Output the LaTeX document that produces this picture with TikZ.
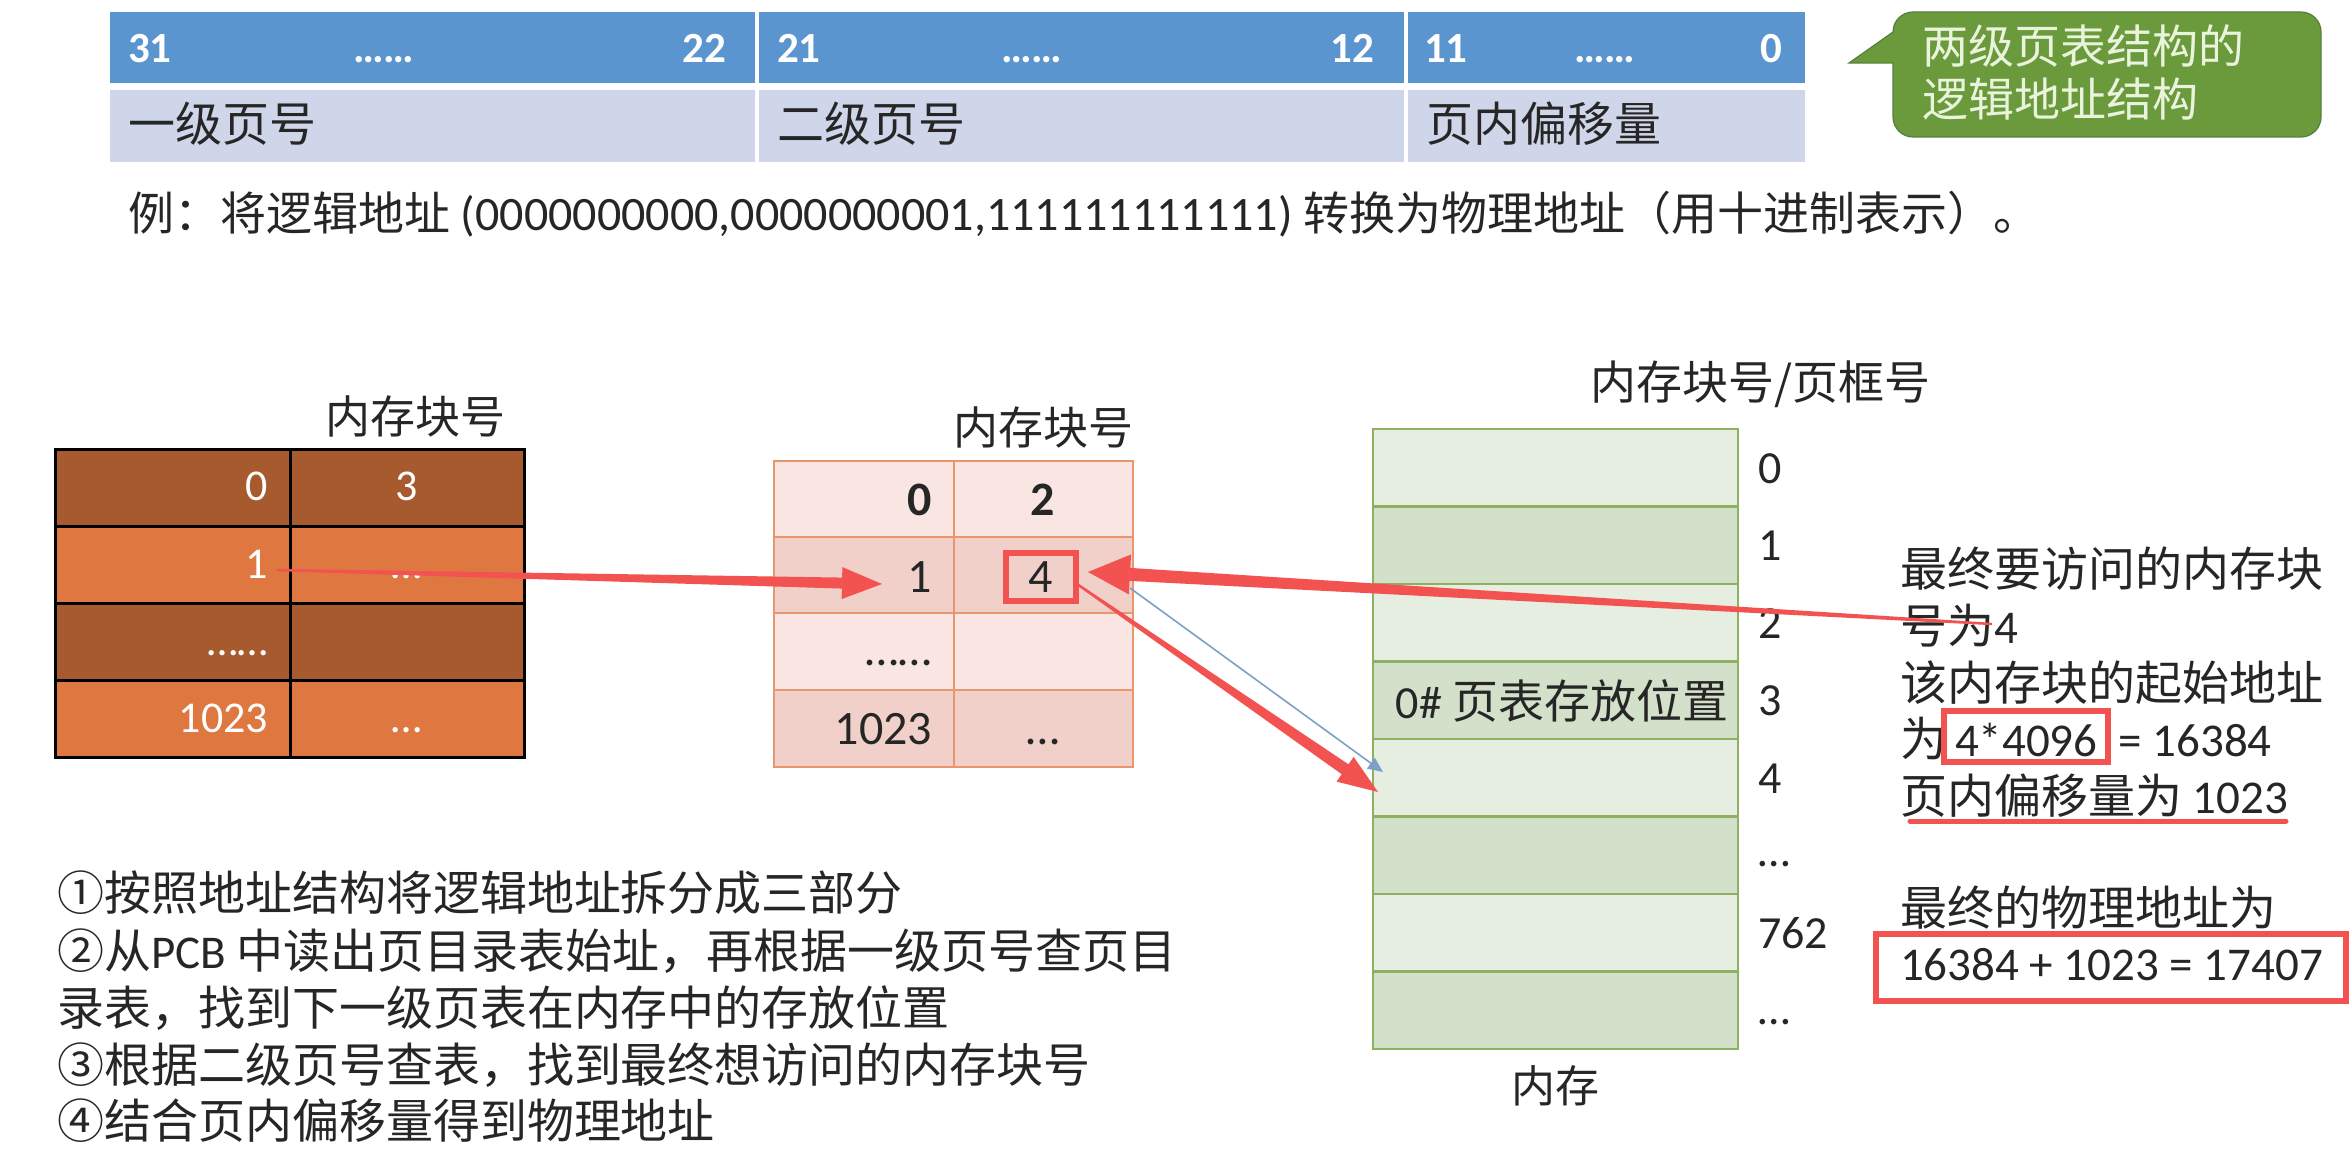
\documentclass[tikz,border=0pt]{standalone}
\usepackage{fontspec}
\setmainfont{Noto Sans CJK SC}
\newfontfamily\lat{Carlito}
\usetikzlibrary{calc,arrows.meta}
\definecolor{hdrblue}{HTML}{5B95CF}
\definecolor{rowlav}{HTML}{CFD6E9}
\definecolor{callgreen}{HTML}{6A9A3C}
\definecolor{callline}{HTML}{56803A}
\definecolor{calltext}{HTML}{EAF3DC}
\definecolor{brdark}{HTML}{A85A2F}
\definecolor{brlight}{HTML}{DF7740}
\definecolor{pinkL}{HTML}{F9E6E2}
\definecolor{pinkD}{HTML}{F2D0CA}
\definecolor{pinkB}{HTML}{E8966E}
\definecolor{memL}{HTML}{E6EEE2}
\definecolor{memD}{HTML}{D3E0CA}
\definecolor{memB}{HTML}{8DB160}
\definecolor{redc}{HTML}{F25250}
\definecolor{bluec}{HTML}{7DA0C8}
\definecolor{txt}{HTML}{262626}
\newcommand\taper[6]{%
  \coordinate (tpH) at ($(#2)!#5!(#1)$);
  \fill[redc] ($(#1)!#3!90:(#2)$) -- ($(tpH)!#4!-90:(#1)$) -- ($(tpH)!#6!-90:(#1)$) -- (#2) -- ($(tpH)!#6!90:(#1)$) -- ($(tpH)!#4!90:(#1)$) -- ($(#1)!#3!-90:(#2)$) -- cycle;}
\begin{document}
\begin{tikzpicture}[x=1pt,y=-1pt,
  every node/.style={inner sep=0pt,outer sep=0pt},
  cj/.style={font=\fontsize{47}{56}\selectfont,text=txt},
  cjh/.style={font=\fontsize{45}{54}\selectfont,text=txt},
  hd/.style={font=\lat\bfseries\fontsize{43}{50}\selectfont,text=white},
  wn/.style={font=\lat\fontsize{44}{52}\selectfont,text=white},
  bn/.style={font=\lat\fontsize{48}{56}\selectfont,text=txt},
  mn/.style={font=\lat\fontsize{46}{54}\selectfont,text=txt},
  ln/.style={font=\lat\fontsize{47}{56}\selectfont,text=txt},
  redbox/.style={draw=redc,line width=5.5pt},
  brgrid/.style={draw=black,line width=3pt},
  pkgrid/.style={draw=pinkB,line width=2.5pt},
  memgrid/.style={draw=memB,line width=2.5pt}]
\useasboundingbox (0,0) rectangle (2351,1155);
\fill[white] (0,0) rectangle (2351,1155);

% ---------- top address structure ----------
\fill[hdrblue] (110,12) rectangle (1805,83);
\fill[rowlav] (110,90) rectangle (1805,162);
\draw[white,line width=4pt] (757,10) -- (757,164) (1406,10) -- (1406,164);
\node[hd,anchor=base west] (h31) at (128,63) {31};
\node[hd,anchor=base] (hd1) at (384,63) {……};
\node[hd,anchor=base east] (h22) at (726,63) {22};
\node[hd,anchor=base west] (h21) at (777,63) {21};
\node[hd,anchor=base] (hd2) at (1032,63) {……};
\node[hd,anchor=base east] (h12) at (1374,63) {12};
\node[hd,anchor=base west] (h11) at (1424,63) {11};
\node[hd,anchor=base] (hd3) at (1605,63) {……};
\node[hd,anchor=base east] (h0) at (1782,63) {0};
\node[cj,anchor=base west] (f1) at (128,142) {一级页号};
\node[cj,anchor=base west] (f2) at (777,142) {二级页号};
\node[cj,anchor=base west] (f3) at (1426,142) {页内偏移量};

% callout
\filldraw[fill=callgreen,draw=callline,line width=1.2pt]
  (1893,63) -- (1849,63) -- (1893,32) [rounded corners=20pt] -- (1893,12) -- (2321,12) -- (2321,137) -- (1893,137) [sharp corners] -- (1893,63) -- cycle;
\node[font=\fontsize{46}{53}\selectfont,text=calltext,anchor=base west] (c1) at (1922,64) {两级页表结构的};
\node[font=\fontsize{46}{53}\selectfont,text=calltext,anchor=base west] (c2) at (1922,117) {逻辑地址结构};

% example line
\node[font=\fontsize{46}{54}\selectfont,text=txt,anchor=base west] (ex) at (128,231)
  {例：将逻辑地址{\lat\fontsize{48}{54}\selectfont\ (0000000000,0000000001,111111111111)\ }转换为物理地址（用十进制表示）。};

% ---------- left table (page directory) ----------
\node[cjh,anchor=base] (lhdr) at (415,434) {内存块号};
\fill[brdark] (55,449) rectangle (524,526);
\fill[brlight] (55,526) rectangle (524,603);
\fill[brdark] (55,603) rectangle (524,680);
\fill[brlight] (55,680) rectangle (524,757);
\draw[brgrid] (55,449) rectangle (524,757);
\draw[brgrid] (55,526) -- (524,526) (55,603) -- (524,603) (55,680) -- (524,680) (290,449) -- (290,757);
\node[wn,anchor=base east] (l0) at (268,500) {0};
\node[wn,anchor=base] (l0v) at (407,500) {3};
\node[wn,anchor=base east] (l1) at (268,578) {1};
\node[wn,anchor=base] (l1v) at (407,578) {…};
\node[wn,anchor=base east] (l2) at (268,655) {……};
\node[wn,anchor=base east] (l3) at (268,732) {1023};
\node[wn,anchor=base] (l3v) at (407,732) {…};

% ---------- middle table (second-level page table) ----------
\node[cjh,anchor=base] (mhdr) at (1043,444) {内存块号};
\fill[pinkL] (774,461) rectangle (1133,537);
\fill[pinkD] (774,537) rectangle (1133,613);
\fill[pinkL] (774,613) rectangle (1133,690);
\fill[pinkD] (774,690) rectangle (1133,767);
\draw[pkgrid] (774,461) rectangle (1133,767);
\draw[pkgrid] (774,537) -- (1133,537) (774,613) -- (1133,613) (774,690) -- (1133,690) (954,461) -- (954,767);
\node[bn,font=\lat\bfseries\fontsize{48}{56}\selectfont,anchor=base east] (m0) at (932,515) {0};
\node[bn,font=\lat\bfseries\fontsize{48}{56}\selectfont,anchor=base] (m0v) at (1043,515) {2};
\node[bn,anchor=base east] (m1) at (932,592) {1};
\node[bn,anchor=base] (m1v) at (1041,592) {4};
\draw[redbox] (1006,553) rectangle (1076,601);
\node[bn,anchor=base east] (m2) at (932,665) {……};
\node[bn,anchor=base east] (m3) at (932,744) {1023};
\node[bn,anchor=base] (m3v) at (1043,744) {…};

% ---------- memory ----------
\node[font=\fontsize{46}{54}\selectfont,text=txt,anchor=base] (memhdr) at (1760,400) {内存块号/页框号};
\foreach \k/\c in {0/memL,1/memD,2/memL,3/memD,4/memL,5/memD,6/memL,7/memD}{
  \fill[\c] (1373,429+77.5*\k) rectangle (1738,506.5+77.5*\k);
}
\draw[memgrid] (1373,429) rectangle (1738,1049);
\foreach \k in {1,...,7}{\draw[memgrid] (1373,429+77.5*\k) -- (1738,429+77.5*\k);}
\node[font=\fontsize{46}{54}\selectfont,text=txt,anchor=base] (pt0) at (1562,718) {{\lat 0\#} 页表存放位置};
\node[mn,anchor=base west] (r0) at (1758,483) {0};
\node[mn,anchor=base west] (r1) at (1758,560) {1};
\node[mn,anchor=base west] (r2) at (1758,638) {2};
\node[mn,anchor=base west] (r3) at (1758,715) {3};
\node[mn,anchor=base west] (r4) at (1758,793) {4};
\node[mn,anchor=base west] (r5) at (1758,866) {…};
\node[mn,anchor=base west] (r6) at (1758,948) {762};
\node[mn,anchor=base west] (r7) at (1758,1024) {…};
\node[font=\fontsize{44}{52}\selectfont,text=txt,anchor=base] (memlbl) at (1555,1102) {内存};

% ---------- right explanation ----------
\node[cj,anchor=base west] (e1) at (1900,586) {最终要访问的内存块};
\node[cj,anchor=base west] (e2) at (1900,643) {号为{\lat 4}};
\node[cj,anchor=base west] (e3) at (1900,700) {该内存块的起始地址};
\node[cj,anchor=base west] (e4a) at (1900,756) {为};
\node[ln,anchor=base west] (e4b) at (1955,756) {4*4096};
\node[ln,anchor=base west] (e4c) at (2108,756) {\ = 16384};
\draw[redbox] (1944,711) rectangle (2108,762);
\node[cj,anchor=base west] (e5) at (1900,813) {页内偏移量为{\lat\ 1023}};
\draw[redc,line width=5pt,line cap=round] (1910,821) -- (2286,821);
\node[cj,anchor=base west] (e6) at (1900,925) {最终的物理地址为};
\node[ln,anchor=base west] (e7) at (1900,980) {16384 + 1023 = 17407};
\draw[redbox] (1876,934) rectangle (2346,1001);

% ---------- notes ----------
\node[cj,anchor=base west] (n1) at (57,910) {①按照地址结构将逻辑地址拆分成三部分};
\node[cj,anchor=base west] (n2) at (57,968) {②从{\lat PCB\ }中读出页目录表始址，再根据一级页号查页目};
\node[cj,anchor=base west] (n3) at (57,1025) {录表，找到下一级页表在内存中的存放位置};
\node[cj,anchor=base west] (n4) at (57,1082) {③根据二级页号查表，找到最终想访问的内存块号};
\node[cj,anchor=base west] (n5) at (57,1138) {④结合页内偏移量得到物理地址};

% ---------- connectors ----------
\coordinate (a1s) at (277,570);
\coordinate (a1e) at (882,584);
\coordinate (a2s) at (1992,624);
\coordinate (a2e) at (1088,572);
\coordinate (a3s) at (1077,584);
\coordinate (a3e) at (1378,792);
\coordinate (b1s) at (1130,588);
\coordinate (b1e) at (1383,772);
\draw[bluec,line width=1.6pt,-{Triangle[length=15pt,width=13pt]}] (b1s) -- (b1e);
\taper{a1s}{a1e}{1.2pt}{5.5pt}{40pt}{16pt}
\taper{a2s}{a2e}{1.2pt}{6.5pt}{42pt}{20pt}
\taper{a3s}{a3e}{1.2pt}{6pt}{40pt}{15pt}
\end{tikzpicture}
\end{document}
